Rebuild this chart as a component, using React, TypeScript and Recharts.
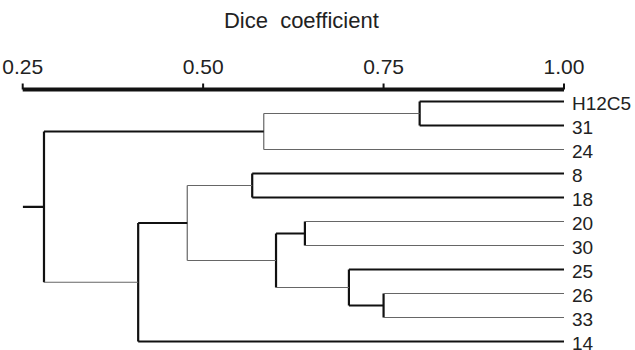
import React from 'react';
import { ComposedChart, Line, XAxis, YAxis } from 'recharts';

// Leaves, top to bottom
const leafLabels = ['H12C5', '31', '24', '8', '18', '20', '30', '25', '26', '33', '14'];

// Merges: [childA, childB, Dice similarity]; new node ids start at leafLabels.length
const mergeChildA = [0, 11, 3, 5, 8, 7, 14, 13, 18, 12];
const mergeChildB = [1, 2, 4, 6, 9, 15, 16, 17, 10, 19];
const mergeLevel = [0.8, 0.584, 0.568, 0.641, 0.75, 0.702, 0.601, 0.478, 0.41, 0.2795];

const axisTicks = [0.25, 0.5, 0.75, 1.0];
const axisMin = 0.25;
const axisMax = 1.0;

// style: which segments are drawn heavy
const heavyVertical = new Set([11, 13, 14, 15, 16, 17, 19, 20]);
const heavyHorizontal = new Set([0, 1, 3, 4, 7, 10, 12, 14, 15, 18, 20]);

type Seg = { key: string; pts: { x: number; y: number }[]; heavy: boolean };

function buildSegments(): Seg[] {
  const n = leafLabels.length;
  const ypos: number[] = leafLabels.map((_, i) => i);
  const level: number[] = leafLabels.map(() => axisMax);
  const segs: Seg[] = [];
  mergeChildA.forEach((a, k) => {
    const b = mergeChildB[k];
    const id = n + k;
    const h = mergeLevel[k];
    ypos[id] = (ypos[a] + ypos[b]) / 2;
    level[id] = h;
    segs.push({
      key: `v${id}`,
      pts: [
        { x: h, y: ypos[a] },
        { x: h, y: ypos[b] },
      ],
      heavy: heavyVertical.has(id),
    });
    [a, b].forEach((c) => {
      segs.push({
        key: `h${c}`,
        pts: [
          { x: h, y: ypos[c] },
          { x: level[c], y: ypos[c] },
        ],
        heavy: heavyHorizontal.has(c),
      });
    });
  });
  const root = n + mergeChildA.length - 1;
  segs.push({
    key: 'root',
    pts: [
      { x: axisMin, y: ypos[root] },
      { x: level[root], y: ypos[root] },
    ],
    heavy: heavyHorizontal.has(root),
  });
  return segs;
}

const segments = buildSegments();

export default function App() {
  return (
    <div
      style={{
        position: 'absolute',
        left: 0,
        top: 0,
        width: 635,
        height: 350,
        overflow: 'hidden',
        background: '#fff',
        fontFamily: '"Liberation Sans", Arial, sans-serif',
      }}
    >
      <ComposedChart width={635} height={354} margin={{ top: 0, right: 0, bottom: 0.5, left: 22.7 }}>
        <XAxis
          xAxisId={0}
          orientation="top"
          type="number"
          dataKey="x"
          domain={[axisMin, axisMax]}
          ticks={axisTicks}
          allowDataOverflow
          height={89.5}
          tickFormatter={(v: number) => v.toFixed(2)}
          axisLine={{ stroke: '#111', strokeWidth: 4 }}
          tickLine={{ stroke: '#111', strokeWidth: 2 }}
          tickSize={6}
          tickMargin={10}
          tick={{ fontSize: 21, fill: '#222' }}
          label={{
            value: 'Dice\u00A0 coefficient',
            position: 'insideTop',
            offset: 12,
            fontSize: 22,
            fill: '#222',
            dx: 8,
          }}
        />
        <YAxis
          yAxisId={0}
          orientation="right"
          type="number"
          domain={[-0.5, 10.5]}
          reversed
          allowDataOverflow
          ticks={leafLabels.map((_, i) => i)}
          interval={0}
          tickFormatter={(v: number) => leafLabels[v] ?? ''}
          width={71}
          axisLine={false}
          tickLine={false}
          tickSize={6}
          tickMargin={2}
          tick={{ fontSize: 19, fill: '#222', dy: 2 }}
        />
        {segments.map((s) => (
          <Line
            key={s.key}
            data={s.pts}
            dataKey="y"
            type="linear"
            stroke={s.heavy ? '#111' : '#666'}
            strokeWidth={s.heavy ? 2.2 : 1.2}
            dot={false}
            activeDot={false}
            isAnimationActive={false}
            legendType="none"
          />
        ))}
      </ComposedChart>
    </div>
  );
}
